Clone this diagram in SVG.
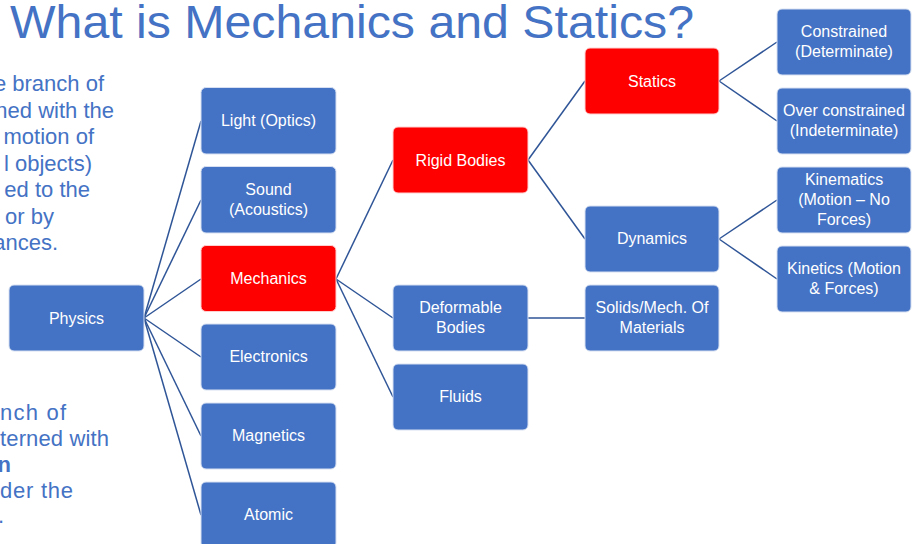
<svg xmlns="http://www.w3.org/2000/svg" width="913" height="544" viewBox="0 0 913 544">
<style>
.b{fill:#4472C4;stroke:#D6E0F2;stroke-width:1}
.r{fill:#FF0000;stroke:#FFD0D0;stroke-width:1}
.t{font-family:"Liberation Sans",Arial,sans-serif;font-size:16px;fill:#FFFFFF;text-anchor:middle}
.p{font-family:"Liberation Sans",Arial,sans-serif;font-size:22px;fill:#4472C4;text-anchor:end}
.q{font-family:"Liberation Sans",Arial,sans-serif;font-size:22px;fill:#4472C4}
.c line{stroke:#2F5597;stroke-width:1.5}
</style>
<rect width="913" height="544" fill="#FFFFFF"/>
<text x="10" y="38" font-family="'Liberation Sans',Arial,sans-serif" font-size="46" fill="#4472C4" textLength="684" lengthAdjust="spacingAndGlyphs">What is Mechanics and Statics?</text>
<g id="left-text">
<text class="p" x="104" y="91">e branch of</text>
<text class="p" x="114" y="117.5">ned with the</text>
<text class="p" x="94" y="144">motion of</text>
<text class="p" x="92" y="170.5">l objects)</text>
<text class="p" x="90" y="197">ed to the</text>
<text class="p" x="54" y="223.5">or by</text>
<text class="p" x="58" y="250">ances.</text>
<text class="q" x="0" y="420" textLength="66">nch of</text>
<text class="q" x="0" y="446" textLength="109">terned with</text>
<text class="p" x="11" y="472" font-weight="bold">n</text>
<text class="q" x="0" y="498" textLength="73">der the</text>
<text class="p" x="4" y="523">.</text>
</g>
<g id="connectors" class="c">
<line x1="144" y1="318" x2="201" y2="121"/>
<line x1="144" y1="318" x2="201" y2="200"/>
<line x1="144" y1="318" x2="201" y2="279"/>
<line x1="144" y1="318" x2="201" y2="357"/>
<line x1="144" y1="318" x2="201" y2="436"/>
<line x1="144" y1="318" x2="201" y2="515"/>
<line x1="336" y1="279" x2="393" y2="160"/>
<line x1="336" y1="279" x2="393" y2="318"/>
<line x1="336" y1="279" x2="393" y2="397"/>
<line x1="528" y1="160" x2="585" y2="81"/>
<line x1="528" y1="160" x2="585" y2="239"/>
<line x1="528" y1="318" x2="585" y2="318"/>
<line x1="719" y1="81" x2="777" y2="42"/>
<line x1="719" y1="81" x2="777" y2="121"/>
<line x1="719" y1="239" x2="777" y2="200"/>
<line x1="719" y1="239" x2="777" y2="279"/>
</g>
<g id="physics"><rect class="b" x="9" y="285" width="135" height="66" rx="5"/><text class="t" x="76.5" y="323.5">Physics</text></g>
<g id="light"><rect class="b" x="201" y="87.5" width="135" height="66.5" rx="5"/><text class="t" x="268.5" y="126">Light (Optics)</text></g>
<g id="sound"><rect class="b" x="201" y="166.5" width="135" height="66.5" rx="5"/><text class="t" x="268.5" y="195">Sound</text><text class="t" x="268.5" y="215">(Acoustics)</text></g>
<g id="mechanics"><rect class="r" x="201" y="245.5" width="135" height="66" rx="5"/><text class="t" x="268.5" y="284">Mechanics</text></g>
<g id="electronics"><rect class="b" x="201" y="324" width="135" height="66" rx="5"/><text class="t" x="268.5" y="362">Electronics</text></g>
<g id="magnetics"><rect class="b" x="201" y="403" width="135" height="66" rx="5"/><text class="t" x="268.5" y="441">Magnetics</text></g>
<g id="atomic"><rect class="b" x="201" y="482" width="135" height="66" rx="5"/><text class="t" x="268.5" y="520">Atomic</text></g>
<g id="rigid"><rect class="r" x="393" y="127" width="135" height="66" rx="5"/><text class="t" x="460.5" y="165.5">Rigid Bodies</text></g>
<g id="deformable"><rect class="b" x="393" y="285" width="135" height="66" rx="5"/><text class="t" x="460.5" y="313">Deformable</text><text class="t" x="460.5" y="333">Bodies</text></g>
<g id="fluids"><rect class="b" x="393" y="364" width="135" height="66" rx="5"/><text class="t" x="460.5" y="402">Fluids</text></g>
<g id="statics"><rect class="r" x="585" y="48" width="134" height="66" rx="5"/><text class="t" x="652" y="87">Statics</text></g>
<g id="dynamics"><rect class="b" x="585" y="206" width="134" height="66" rx="5"/><text class="t" x="652" y="244">Dynamics</text></g>
<g id="solids"><rect class="b" x="585" y="285" width="134" height="66" rx="5"/><text class="t" x="652" y="313">Solids/Mech. Of</text><text class="t" x="652" y="333">Materials</text></g>
<g id="constrained"><rect class="b" x="777" y="9" width="134" height="66" rx="5"/><text class="t" x="844" y="37">Constrained</text><text class="t" x="844" y="57">(Determinate)</text></g>
<g id="overconstrained"><rect class="b" x="777" y="88" width="134" height="66" rx="5"/><text class="t" x="844" y="116">Over constrained</text><text class="t" x="844" y="136">(Indeterminate)</text></g>
<g id="kinematics"><rect class="b" x="777" y="167" width="134" height="66" rx="5"/><text class="t" x="844" y="185">Kinematics</text><text class="t" x="844" y="205">(Motion – No</text><text class="t" x="844" y="225">Forces)</text></g>
<g id="kinetics"><rect class="b" x="777" y="246" width="134" height="66" rx="5"/><text class="t" x="844" y="274">Kinetics (Motion</text><text class="t" x="844" y="294">&amp; Forces)</text></g>
</svg>
